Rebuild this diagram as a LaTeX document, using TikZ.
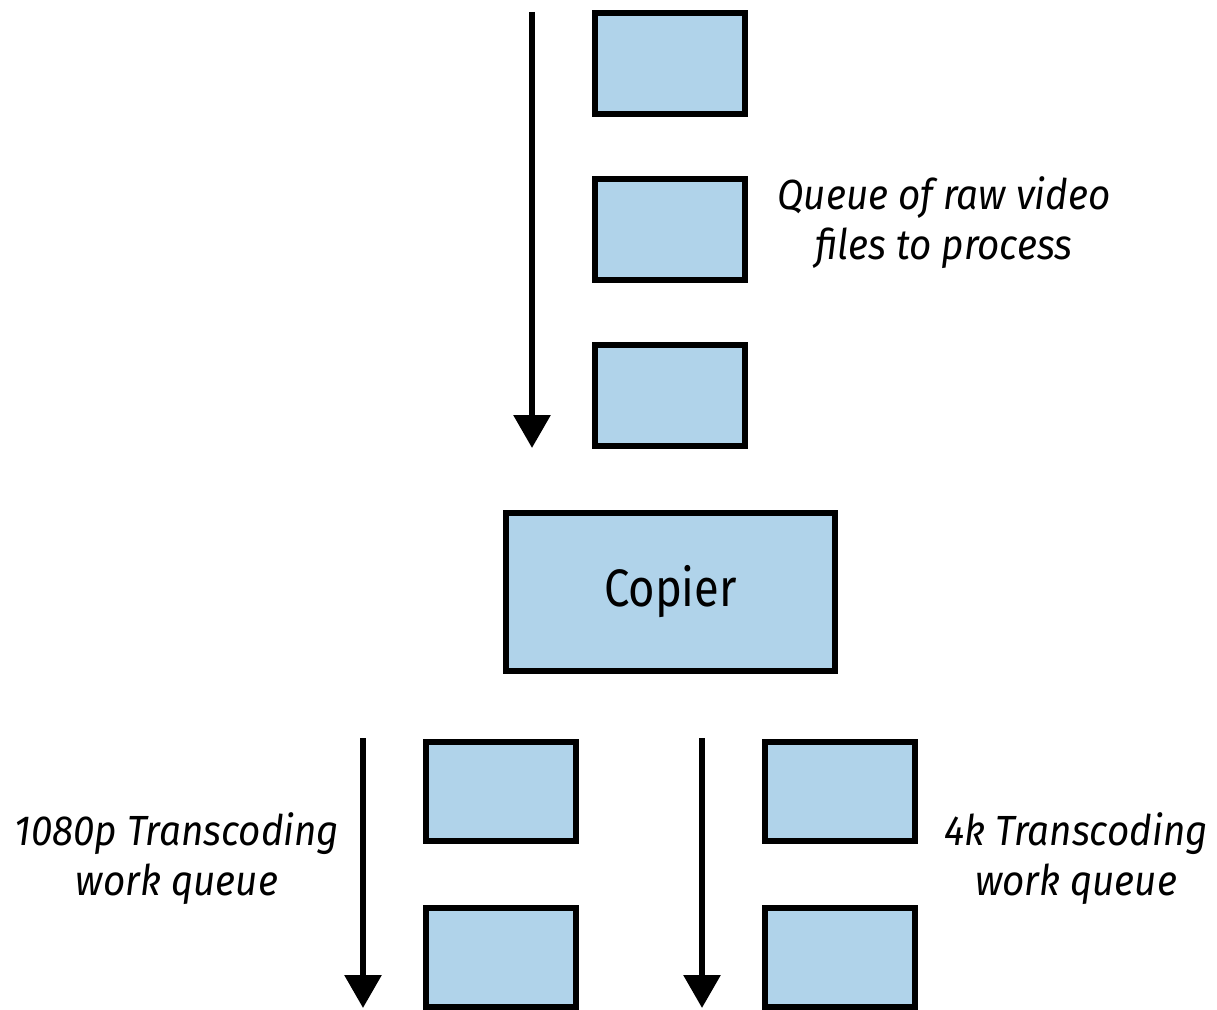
\documentclass[tikz,border=0pt]{standalone}
\usepackage{fontspec}
\setmainfont{Fira Sans}
\newfontfamily\lblfont[FakeStretch=0.915]{Fira Sans}
\newfontfamily\copfont[FakeStretch=0.86]{Fira Sans}
\usetikzlibrary{arrows.meta}
\definecolor{boxblue}{HTML}{B0D3EA}
\tikzset{
  qbox/.style={draw=black, fill=boxblue, line width=6*0.02cm, rectangle, inner sep=0pt,
    minimum width=150*0.02cm, minimum height=101*0.02cm},
  flow/.style={line width=6*0.02cm, -{Triangle[width=36*0.02cm, length=33*0.02cm]}},
  lbl/.style={font=\lblfont\fontsize{24}{28.5}\selectfont\itshape, align=center, inner sep=0pt},
}
\begin{document}
\begin{tikzpicture}[x=0.02cm, y=-0.02cm]
\useasboundingbox (0,0) rectangle (1217,1010);
% top queue
\node[qbox] (q1) at (670,63.5) {};
\node[qbox] (q2) at (670,230) {};
\node[qbox] (q3) at (670,395.5) {};
\coordinate (a1s) at (532,12);
\coordinate (a1e) at (532,448);
\draw[flow] (a1s) -- (a1e);
\node[lbl] (t1) at (944,223) {Queue of raw video\\files to process};
% copier
\node[qbox, minimum width=329*0.02cm, minimum height=158*0.02cm,
  font=\copfont\fontsize{30}{36}\selectfont] (cop) at (670.5,592) {Copier};
% left queue
\node[qbox, minimum height=99*0.02cm] (l1) at (500.5,791) {};
\node[qbox, minimum height=99*0.02cm] (l2) at (500.5,957) {};
\coordinate (a2s) at (363,738);
\coordinate (a2e) at (363,1008);
\draw[flow] (a2s) -- (a2e);
\node[lbl] (t2) at (177,859) {1080p Transcoding\\work queue};
% right queue
\node[qbox, minimum height=99*0.02cm] (r1) at (840,791) {};
\node[qbox, minimum height=99*0.02cm] (r2) at (840,957) {};
\coordinate (a3s) at (702,738);
\coordinate (a3e) at (702,1008);
\draw[flow] (a3s) -- (a3e);
\node[lbl] (t3) at (1076,859) {4k Transcoding\\work queue};
\end{tikzpicture}
\end{document}
